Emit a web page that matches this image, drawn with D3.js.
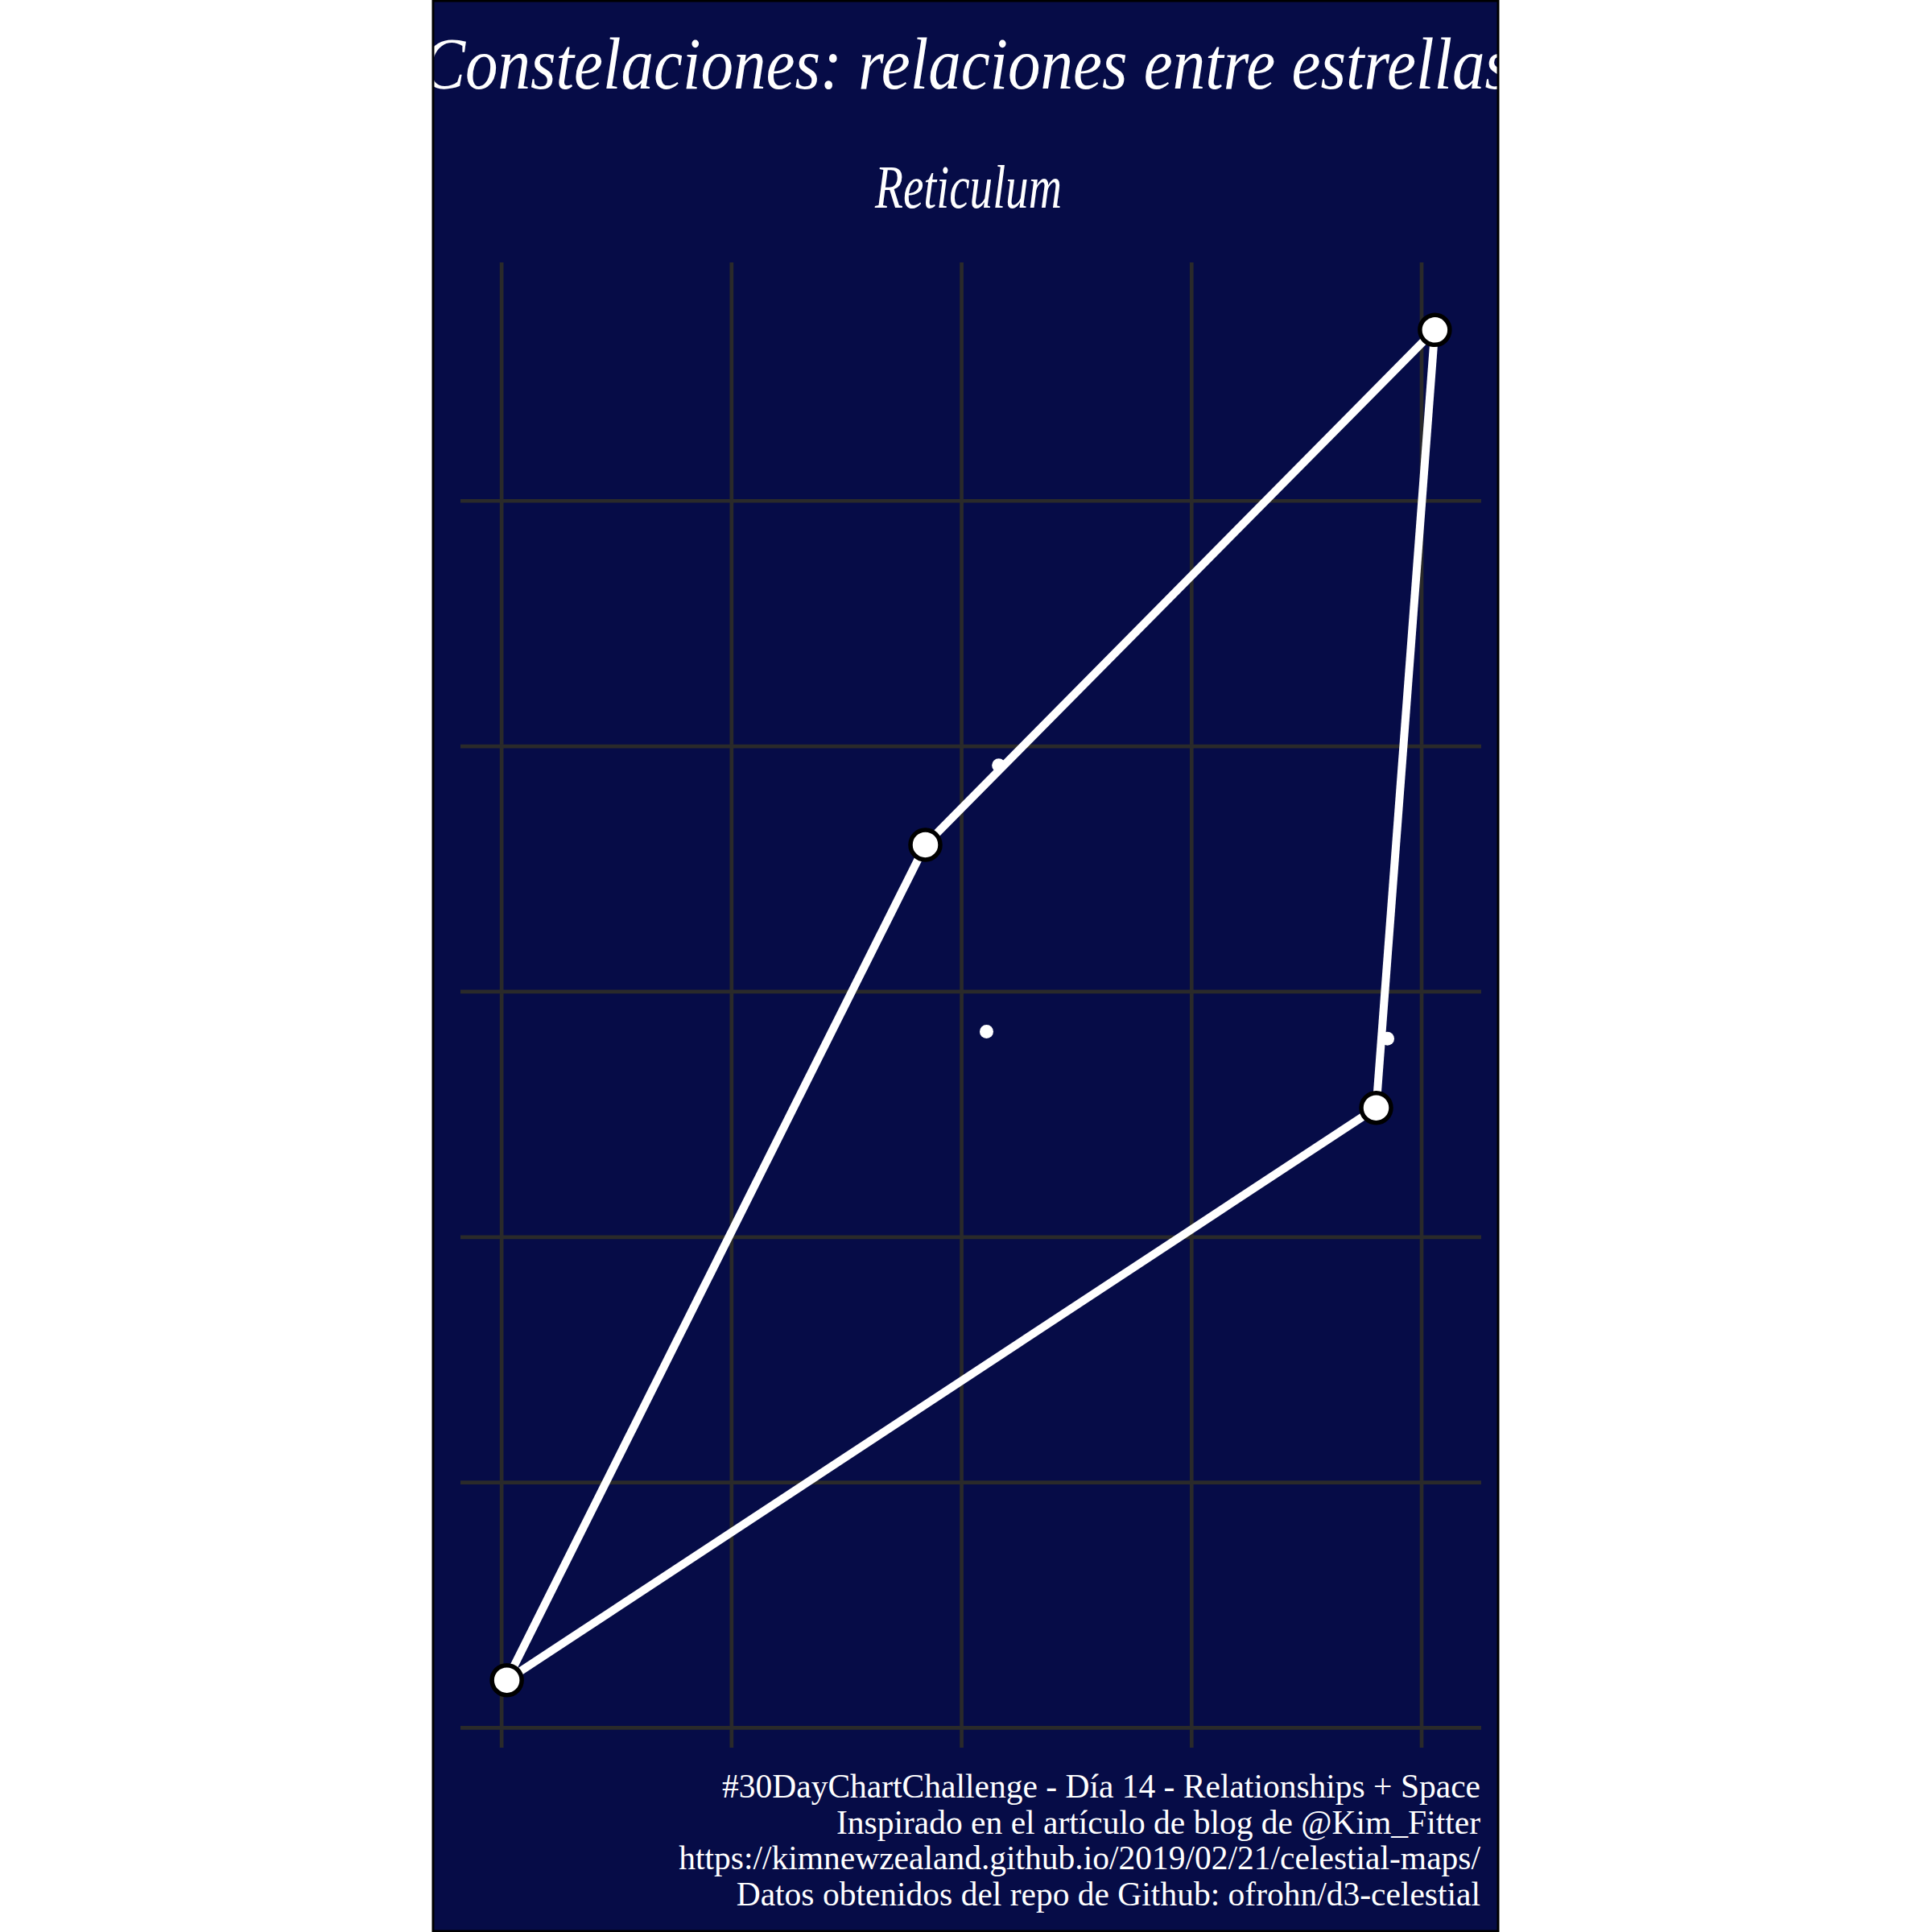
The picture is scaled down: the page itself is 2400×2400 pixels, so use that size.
<!DOCTYPE html>
<html>
<head>
<meta charset="utf-8">
<script src="https://cdn.jsdelivr.net/npm/d3@7"></script>
<style>
  html, body { margin: 0; padding: 0; background: #ffffff; }
  svg { display: block; }
</style>
</head>
<body>
<script>
// ---------------- DATA ----------------
const starIds   = ["a", "b", "c", "d", "e", "f", "g"];
const starX     = [4.059, 1.844, 0.0245, 3.804, 2.163, 2.110, 3.853];
const starY     = [5.695, 3.597, 0.193, 2.525, 3.921, 2.836, 2.807];
const starBright = [true, true, true, true, false, false, false];
// constellation line segments (pairs of star indices)
const lineFrom  = [2, 1, 0, 3];
const lineTo    = [1, 0, 3, 2];
const xTicks    = [0, 1, 2, 3, 4];
const yTicks    = [0, 1, 2, 3, 4, 5];

const titleText    = "Constelaciones: relaciones entre estrellas";
const subtitleText = "Reticulum";
const captionLines = [
  "#30DayChartChallenge - Día 14 - Relationships + Space",
  "Inspirado en el artículo de blog de @Kim_Fitter",
  "https://kimnewzealand.github.io/2019/02/21/celestial-maps/",
  "Datos obtenidos del repo de Github: ofrohn/d3-celestial"
];

// ---------------- LAYOUT ----------------
const W = 2400, H = 2400;
const dev = { x: 537, y: 0, w: 1325, h: 2400 };
const panel = { x0: 572, x1: 1840, y0: 326, y1: 2171 };
const navy = "#060c47";
const gridCol = "#2a2a2a";

const svg = d3.select("body").append("svg")
  .attr("width", W).attr("height", H)
  .attr("viewBox", `0 0 ${W} ${H}`);

svg.append("rect").attr("width", W).attr("height", H).attr("fill", "#ffffff");

const defs = svg.append("defs");
defs.append("clipPath").attr("id", "devclip")
  .append("rect").attr("x", dev.x).attr("y", dev.y).attr("width", dev.w).attr("height", dev.h);
defs.append("clipPath").attr("id", "panelclip")
  .append("rect").attr("x", panel.x0).attr("y", panel.y0)
  .attr("width", panel.x1 - panel.x0).attr("height", panel.y1 - panel.y0);

const root = svg.append("g").attr("clip-path", "url(#devclip)");
root.append("rect")
  .attr("x", dev.x).attr("y", dev.y).attr("width", dev.w).attr("height", dev.h)
  .attr("fill", navy);

// scales with 5% expansion (ggplot default)
const xExt = d3.extent(starX), yExt = d3.extent(starY);
const xPad = (xExt[1] - xExt[0]) * 0.05, yPad = (yExt[1] - yExt[0]) * 0.05;
const x = d3.scaleLinear().domain([xExt[0] - xPad, xExt[1] + xPad]).range([panel.x0, panel.x1]);
const y = d3.scaleLinear().domain([yExt[0] - yPad, yExt[1] + yPad]).range([panel.y1, panel.y0]);

// grid via axes
const gridG = root.append("g").attr("clip-path", "url(#panelclip)");
gridG.append("g")
  .attr("transform", `translate(0,${panel.y1})`)
  .call(d3.axisBottom(x).tickValues(xTicks).tickSize(-(panel.y1 - panel.y0)).tickFormat(""))
  .call(g => g.select(".domain").remove())
  .call(g => g.selectAll("line").attr("stroke", gridCol).attr("stroke-width", 4.7));
gridG.append("g")
  .attr("transform", `translate(${panel.x0},0)`)
  .call(d3.axisLeft(y).tickValues(yTicks).tickSize(-(panel.x1 - panel.x0)).tickFormat(""))
  .call(g => g.select(".domain").remove())
  .call(g => g.selectAll("line").attr("stroke", gridCol).attr("stroke-width", 4.7));

// constellation lines
const plotG = root.append("g");
plotG.selectAll("line.edge")
  .data(lineFrom.map((f, i) => [f, lineTo[i]]))
  .join("line")
  .attr("class", "edge")
  .attr("x1", d => x(starX[d[0]])).attr("y1", d => y(starY[d[0]]))
  .attr("x2", d => x(starX[d[1]])).attr("y2", d => y(starY[d[1]]))
  .attr("stroke", "#ffffff").attr("stroke-width", 10);

// stars
const stars = starIds.map((id, i) => ({ id, x: starX[i], y: starY[i], bright: starBright[i] }));
plotG.selectAll("circle.star")
  .data(stars)
  .join("circle")
  .attr("class", "star")
  .attr("cx", d => x(d.x)).attr("cy", d => y(d.y))
  .attr("r", d => d.bright ? 18.5 : 8.5)
  .attr("fill", "#ffffff")
  .attr("stroke", d => d.bright ? "#000000" : "none")
  .attr("stroke-width", d => d.bright ? 5.5 : 0);

// title & subtitle
root.append("text")
  .attr("x", 1200).attr("y", 110)
  .attr("text-anchor", "middle")
  .attr("font-family", "'Liberation Serif', 'DejaVu Serif', serif")
  .attr("font-style", "italic")
  .attr("font-size", 92)
  .attr("fill", "#ffffff")
  .attr("textLength", 1352)
  .attr("lengthAdjust", "spacingAndGlyphs")
  .text(titleText);

root.append("text")
  .attr("x", 1203).attr("y", 258)
  .attr("text-anchor", "middle")
  .attr("font-family", "'Liberation Serif', 'DejaVu Serif', serif")
  .attr("font-style", "italic")
  .attr("font-size", 76)
  .attr("fill", "#ffffff")
  .attr("textLength", 232)
  .attr("lengthAdjust", "spacingAndGlyphs")
  .text(subtitleText);

// caption
root.append("g").selectAll("text")
  .data(captionLines)
  .join("text")
  .attr("x", 1839)
  .attr("y", (d, i) => 2233 + i * 44.5)
  .attr("text-anchor", "end")
  .attr("font-family", "'Liberation Serif', 'Times New Roman', serif")
  .attr("font-size", 41.5)
  .attr("fill", "#ffffff")
  .text(d => d);

// device border
svg.append("rect")
  .attr("x", dev.x + 1).attr("y", dev.y + 1).attr("width", dev.w - 2).attr("height", dev.h - 2)
  .attr("fill", "none").attr("stroke", "#000000").attr("stroke-width", 3);
</script>
</body>
</html>
